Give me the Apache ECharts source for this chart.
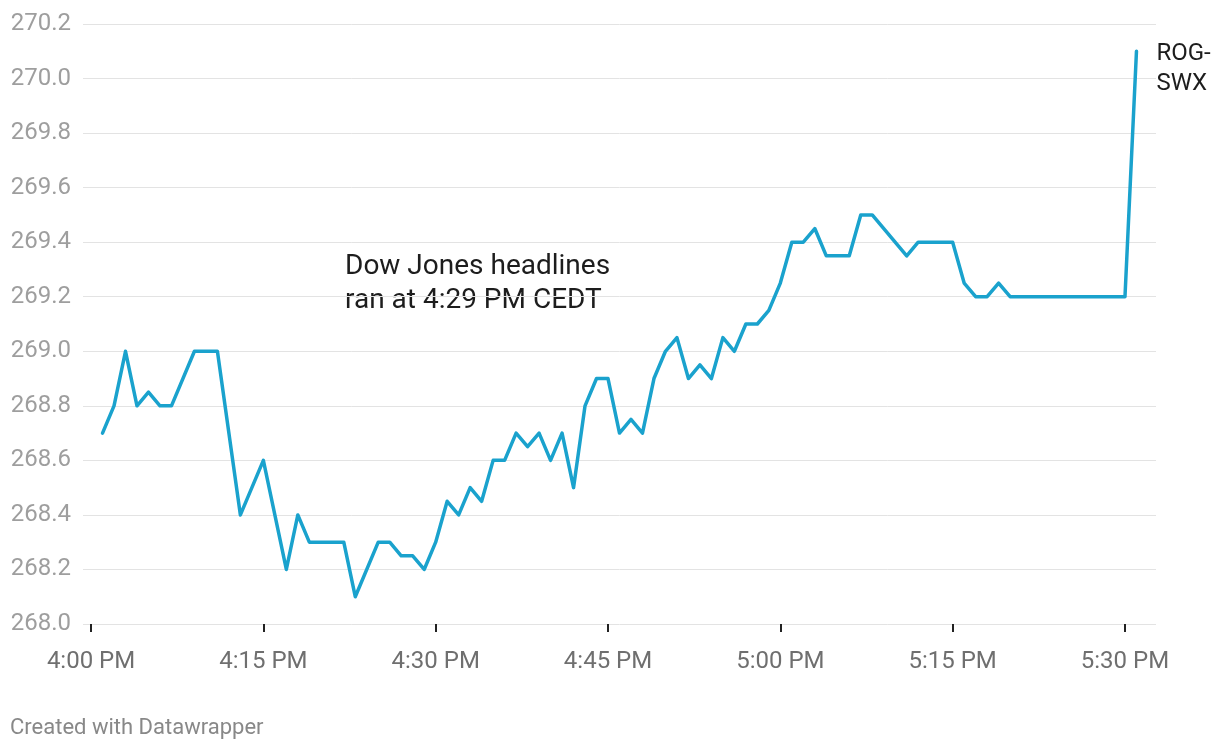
<!DOCTYPE html>
<html>
<head>
<meta charset="utf-8">
<script src="https://cdn.jsdelivr.net/npm/echarts@6/dist/echarts.min.js"></script>
<style>
html,body{margin:0;padding:0;background:#fff;}
#chart{width:1220px;height:750px;}
</style>
</head>
<body>
<div id="chart"></div>
<script>
// ---- data ----
const times = ['16:01','16:02','16:03','16:04','16:05','16:06','16:07','16:09','16:10','16:11',
  '16:13','16:15','16:17','16:18','16:19','16:22','16:23','16:25','16:26','16:27',
  '16:28','16:29','16:30','16:31','16:32','16:33','16:34','16:35','16:36','16:37',
  '16:38','16:39','16:40','16:41','16:42','16:43','16:44','16:45','16:46','16:47',
  '16:48','16:49','16:50','16:51','16:52','16:53','16:54','16:55','16:56','16:57',
  '16:58','16:59','17:00','17:01','17:02','17:03','17:04','17:06','17:07','17:08',
  '17:11','17:12','17:15','17:16','17:17','17:18','17:19','17:20','17:30','17:31'];
const prices = [268.7,268.8,269.0,268.8,268.85,268.8,268.8,269.0,269.0,269.0,
  268.4,268.6,268.2,268.4,268.3,268.3,268.1,268.3,268.3,268.25,
  268.25,268.2,268.3,268.45,268.4,268.5,268.45,268.6,268.6,268.7,
  268.65,268.7,268.6,268.7,268.5,268.8,268.9,268.9,268.7,268.75,
  268.7,268.9,269.0,269.05,268.9,268.95,268.9,269.05,269.0,269.1,
  269.1,269.15,269.25,269.4,269.4,269.45,269.35,269.35,269.5,269.5,
  269.35,269.4,269.4,269.25,269.2,269.2,269.25,269.2,269.2,270.1];
const tickTimes = ['16:00','16:15','16:30','16:45','17:00','17:15','17:30'];
const tickLabels = ['4:00 PM','4:15 PM','4:30 PM','4:45 PM','5:00 PM','5:15 PM','5:30 PM'];
const seriesName = 'ROG-\nSWX';
const annotation = 'Dow Jones headlines\nran at 4:29 PM CEDT';
const footer = 'Created with Datawrapper';

// minutes after 4:00 PM
function toMin(t){const p=t.split(':');return (+p[0]-16)*60 + (+p[1]);}
const seriesData = times.map((t,i)=>[toMin(t), prices[i]]);
const tickVals = tickTimes.map(toMin);
const labelMap = {}; tickVals.forEach((v,i)=>labelMap[v]=tickLabels[i]);

const FONT = 'Roboto, "Noto Sans", sans-serif';
const chart = echarts.init(document.getElementById('chart'), null, {renderer:'canvas'});
chart.setOption({
  animation:false,
  backgroundColor:'#fff',
  grid:{left:83,right:64,top:24,bottom:126,containLabel:false},
  xAxis:{
    type:'value', min:-0.7, max:92.7,
    axisLine:{show:false},
    splitLine:{show:false},
    axisTick:{show:true, customValues:tickVals, length:8, lineStyle:{color:'#222',width:2}},
    axisLabel:{show:true, customValues:tickVals, formatter:v=>labelMap[Math.round(v)]||'',
      color:'#6f6f6f', fontSize:24, fontFamily:FONT, margin:26}
  },
  yAxis:{
    type:'value', min:268, max:270.2, interval:0.2,
    axisLine:{show:false}, axisTick:{show:false},
    splitLine:{show:true, lineStyle:{color:'#e3e3e3',width:1}},
    axisLabel:{formatter:v=>v.toFixed(1), color:'#9e9e9e', fontSize:24, fontFamily:FONT, margin:12}
  },
  series:[{
    type:'line', data:seriesData, showSymbol:false, symbol:'none',
    lineStyle:{color:'#1aa2cd', width:3.5, join:'round', cap:'round'},
    endLabel:{show:true, formatter:seriesName, color:'#1d1d1d', fontSize:24, lineHeight:30,
      fontFamily:FONT, distance:20, align:'left', verticalAlign:'top', offset:[0,-12]}
  }],
  graphic:[
    {type:'text', left:345, top:250, style:{text:annotation, fill:'#1d1d1d', fontSize:28, lineHeight:34, fontFamily:FONT}},
    {type:'text', left:10, top:717, style:{text:footer, fill:'#888', fontSize:22, fontFamily:FONT}}
  ]
});
</script>
</body>
</html>
